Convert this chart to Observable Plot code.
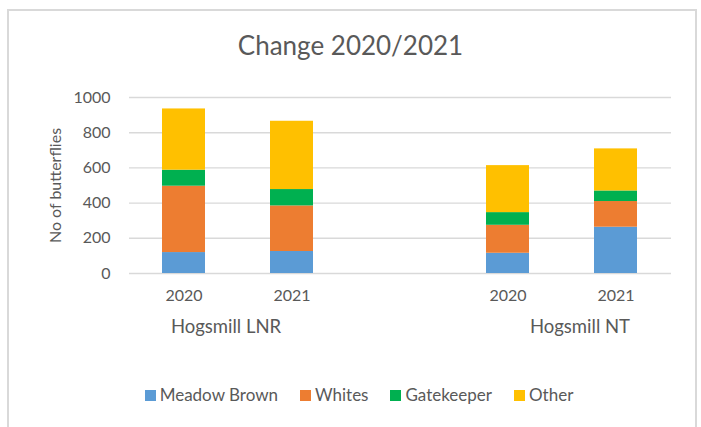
<!DOCTYPE html>
<html>
<head>
<meta charset="utf-8">
<script src="https://cdn.jsdelivr.net/npm/d3@7"></script>
<script src="https://cdn.jsdelivr.net/npm/@observablehq/plot@0.6"></script>
<style>
  html, body { margin: 0; padding: 0; background: #fff; overflow: hidden; }
  body { width: 701px; height: 427px; position: relative; font-family: Lato, "Open Sans", sans-serif; color: #595959; }
  #frame { position: absolute; left: 7px; top: 9px; width: 690px; height: 440px; border: 2px solid #d9d9d9; box-sizing: border-box; }
  #title { position: absolute; left: 0; top: 32px; width: 701px; text-align: center; font-size: 26px; line-height: 26px; }
  #chart { position: absolute; left: 0; top: 75px; }
  #legend { position: absolute; left: 0; top: 385px; width: 718px; display: flex; justify-content: center; gap: 22px; font-size: 17px; line-height: 20px; }
  .item { display: flex; align-items: center; }
  .sw { width: 11px; height: 11px; margin-right: 4px; }
</style>
</head>
<body>
<div id="frame"></div>
<div id="title">Change 2020/2021</div>
<div id="chart"></div>
<div id="legend"></div>
<script>
// ---- data ----
const sites = ["Hogsmill LNR", "Hogsmill LNR", "Hogsmill NT", "Hogsmill NT"];
const years = ["2020", "2021", "2020", "2021"];
const species = ["Meadow Brown", "Whites", "Gatekeeper", "Other"];
const meadowBrown = [119, 125, 115, 263];
const whites = [377, 259, 159, 146];
const gatekeeper = [91, 93, 72, 60];
const other = [348, 388, 267, 239];
const colors = ["#5b9bd5", "#ed7d31", "#00b050", "#ffc000"];
const yTicks = [0, 200, 400, 600, 800, 1000];
const groupLabels = ["Hogsmill LNR", "Hogsmill NT"];

const series = [meadowBrown, whites, gatekeeper, other];
const keys = sites.map((s, i) => s + " " + years[i]);
const xDomain = [keys[0], keys[1], "gap", keys[2], keys[3]];
const yearOf = Object.fromEntries(keys.map((k, i) => [k, years[i]]));

const rows = species.flatMap((sp, j) => keys.map((k, i) => ({key: k, species: sp, value: series[j][i]})));

// group label anchors: LNR label relative to its first bar, NT label relative to its last bar
const groups = [
  {label: groupLabels[0], key: keys[0], dx: 42},
  {label: groupLabels[1], key: keys[3], dx: -36}
];

const chart = Plot.plot({
  width: 701,
  height: 280,
  marginTop: 22,
  marginBottom: 82,
  marginLeft: 129,
  marginRight: 30,
  style: {fontFamily: "Lato, 'Open Sans', sans-serif", fontSize: "16px", color: "#595959", background: "transparent"},
  x: {domain: xDomain, paddingInner: 0.6, paddingOuter: 0.3, axis: null},
  y: {domain: [0, 1000], axis: null},
  color: {domain: species, range: colors},
  marks: [
    Plot.ruleY(yTicks, {stroke: "#d9d9d9", strokeWidth: 1.4}),
    Plot.barY(rows, {x: "key", y: "value", fill: "species", order: species}),
    Plot.axisY(yTicks, {tickSize: 0, tickPadding: 19, label: null, tickFormat: d => String(d), fill: "#595959"}),
    Plot.axisX(xDomain, {tickSize: 0, tickPadding: 16, label: null, tickFormat: d => yearOf[d] || "", fill: "#595959"}),
    ...groups.map(g => Plot.text([g], {x: "key", text: "label", frameAnchor: "bottom", dx: g.dx, dy: 59, fontSize: 18.5, fill: "#595959"})),
    Plot.text(["No of butterflies"], {frameAnchor: "left", textAnchor: "middle", dx: -74, rotate: -90, fontSize: 16, fill: "#595959"})
  ]
});
document.getElementById("chart").appendChild(chart);

const legend = document.getElementById("legend");
species.forEach((sp, i) => {
  const item = document.createElement("div");
  item.className = "item";
  const sw = document.createElement("span");
  sw.className = "sw";
  sw.style.background = colors[i];
  const t = document.createElement("span");
  t.textContent = sp;
  item.appendChild(sw);
  item.appendChild(t);
  legend.appendChild(item);
});
</script>
</body>
</html>
